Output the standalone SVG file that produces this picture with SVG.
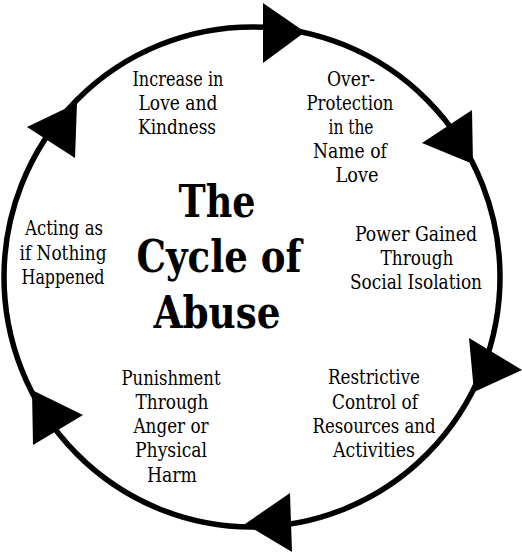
<svg xmlns="http://www.w3.org/2000/svg" width="522" height="560" viewBox="0 0 522 560">
<style>
.ring{fill:none;stroke:#000;stroke-width:5.5}
.head{fill:#000;stroke:none}
text{font-family:'DejaVu Serif Condensed','DejaVu Serif',serif;fill:#000;text-anchor:middle}
.lbl{font-size:19.5px}
.title{font-size:45px;font-weight:bold}
</style>
<rect width="522" height="560" fill="#fff"/>
<g id="connectors">
<ellipse class="ring" cx="252" cy="277" rx="248" ry="250"/>
<polygon class="head" points="263,3 305,32 263,63"/>
<polygon class="head" points="472,110 422,143 473,164"/>
<polygon class="head" points="469,338 522,370 474,392"/>
<polygon class="head" points="290,493 245,524 292,552"/>
<polygon class="head" points="32,390 83,415 33,445"/>
<polygon class="head" points="77,103 27,127 75,158"/>
</g>
<g id="title">
<text class="title" x="217" y="217" textLength="77" lengthAdjust="spacingAndGlyphs">The</text>
<text class="title" x="219" y="272" textLength="165" lengthAdjust="spacingAndGlyphs">Cycle of</text>
<text class="title" x="217" y="328" textLength="127" lengthAdjust="spacingAndGlyphs">Abuse</text>
</g>
<g id="node-increase">
<text class="lbl" x="178" y="86" textLength="91" lengthAdjust="spacingAndGlyphs">Increase in</text>
<text class="lbl" x="178" y="110" textLength="79" lengthAdjust="spacingAndGlyphs">Love and</text>
<text class="lbl" x="177" y="134" textLength="78" lengthAdjust="spacingAndGlyphs">Kindness</text>
</g>
<g id="node-overprotection">
<text class="lbl" x="351" y="86" textLength="48" lengthAdjust="spacingAndGlyphs">Over-</text>
<text class="lbl" x="350" y="110" textLength="87" lengthAdjust="spacingAndGlyphs">Protection</text>
<text class="lbl" x="351" y="134" textLength="45" lengthAdjust="spacingAndGlyphs">in the</text>
<text class="lbl" x="350" y="158" textLength="74" lengthAdjust="spacingAndGlyphs">Name of</text>
<text class="lbl" x="357" y="182" textLength="43" lengthAdjust="spacingAndGlyphs">Love</text>
</g>
<g id="node-power">
<text class="lbl" x="416" y="241" textLength="122" lengthAdjust="spacingAndGlyphs">Power Gained</text>
<text class="lbl" x="417" y="265" textLength="73" lengthAdjust="spacingAndGlyphs">Through</text>
<text class="lbl" x="416" y="289" textLength="132" lengthAdjust="spacingAndGlyphs">Social Isolation</text>
</g>
<g id="node-restrictive">
<text class="lbl" x="374" y="384" textLength="92" lengthAdjust="spacingAndGlyphs">Restrictive</text>
<text class="lbl" x="375" y="409" textLength="86" lengthAdjust="spacingAndGlyphs">Control of</text>
<text class="lbl" x="374" y="433" textLength="123" lengthAdjust="spacingAndGlyphs">Resources and</text>
<text class="lbl" x="374" y="457" textLength="82" lengthAdjust="spacingAndGlyphs">Activities</text>
</g>
<g id="node-punishment">
<text class="lbl" x="171" y="385" textLength="99" lengthAdjust="spacingAndGlyphs">Punishment</text>
<text class="lbl" x="172" y="409" textLength="73" lengthAdjust="spacingAndGlyphs">Through</text>
<text class="lbl" x="171" y="433" textLength="75" lengthAdjust="spacingAndGlyphs">Anger or</text>
<text class="lbl" x="171" y="457" textLength="72" lengthAdjust="spacingAndGlyphs">Physical</text>
<text class="lbl" x="172" y="482" textLength="50" lengthAdjust="spacingAndGlyphs">Harm</text>
</g>
<g id="node-acting">
<text class="lbl" x="64" y="235" textLength="78" lengthAdjust="spacingAndGlyphs">Acting as</text>
<text class="lbl" x="63" y="260" textLength="87" lengthAdjust="spacingAndGlyphs">if Nothing</text>
<text class="lbl" x="63" y="284" textLength="83" lengthAdjust="spacingAndGlyphs">Happened</text>
</g>
</svg>
